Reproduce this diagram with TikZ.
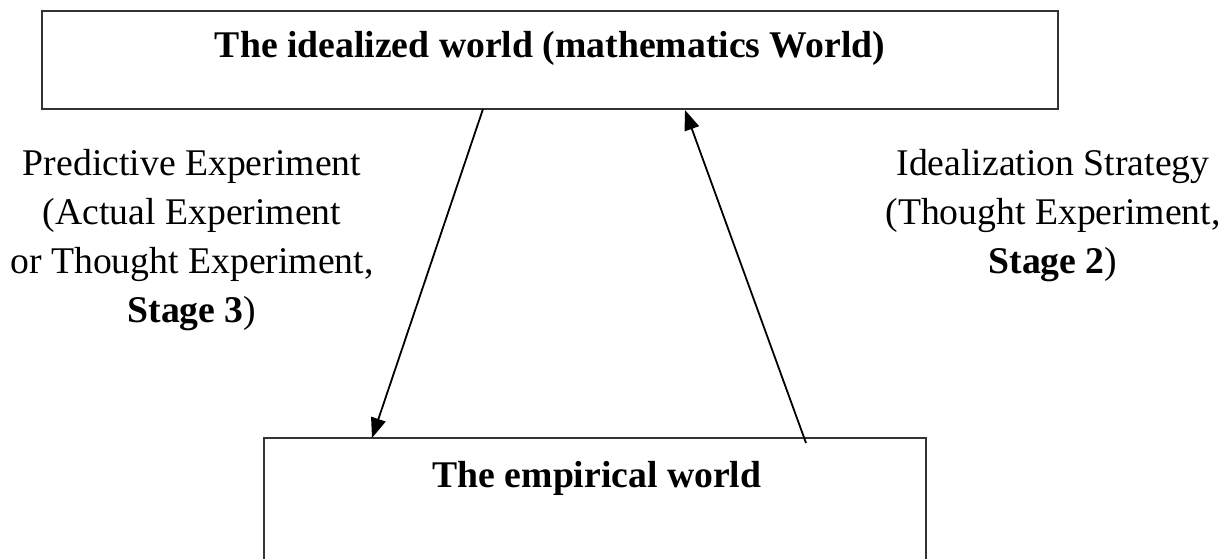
\documentclass[tikz,border=0pt]{standalone}
\usepackage{fontspec}
\setmainfont{Liberation Serif}
\usetikzlibrary{arrows.meta}
\begin{document}
\begin{tikzpicture}[x=1pt,y=-1pt,
  box/.style={draw=black!80, line width=2pt, inner sep=0pt},
  lbl/.style={align=center, inner sep=0pt, font=\fontsize{37.7}{49}\selectfont},
  ttl/.style={inner sep=0pt, font=\fontsize{37.7}{45}\selectfont\bfseries},
  conn/.style={line width=1.8pt, -{Triangle[length=20pt,width=15pt]}}]
\useasboundingbox (0,0) rectangle (1231,558);
\clip (0,0) rectangle (1231,558);
\node[box, minimum width=1016pt, minimum height=98pt] (ideal) at (550,60) {};
\node[ttl] (idealtxt) at (550,48) {The idealized world (mathematics World)};
\node[box, minimum width=662pt, minimum height=240pt] (emp) at (595,558) {};
\node[ttl] (emptxt) at (597,478) {The empirical world};
\coordinate (a1s) at (483,109);
\coordinate (a1e) at (372,438);
\coordinate (a2s) at (806,443);
\coordinate (a2e) at (685,110);
\draw[conn] (a1s) -- (a1e);
\draw[conn] (a2s) -- (a2e);
\node[lbl] (left) at (192,240) {Predictive Experiment\\(Actual Experiment\\or Thought Experiment,\\\textbf{Stage 3})};
\node[lbl] (right) at (1053,216) {Idealization Strategy\\(Thought Experiment,\\\textbf{Stage 2})};
\end{tikzpicture}
\end{document}
